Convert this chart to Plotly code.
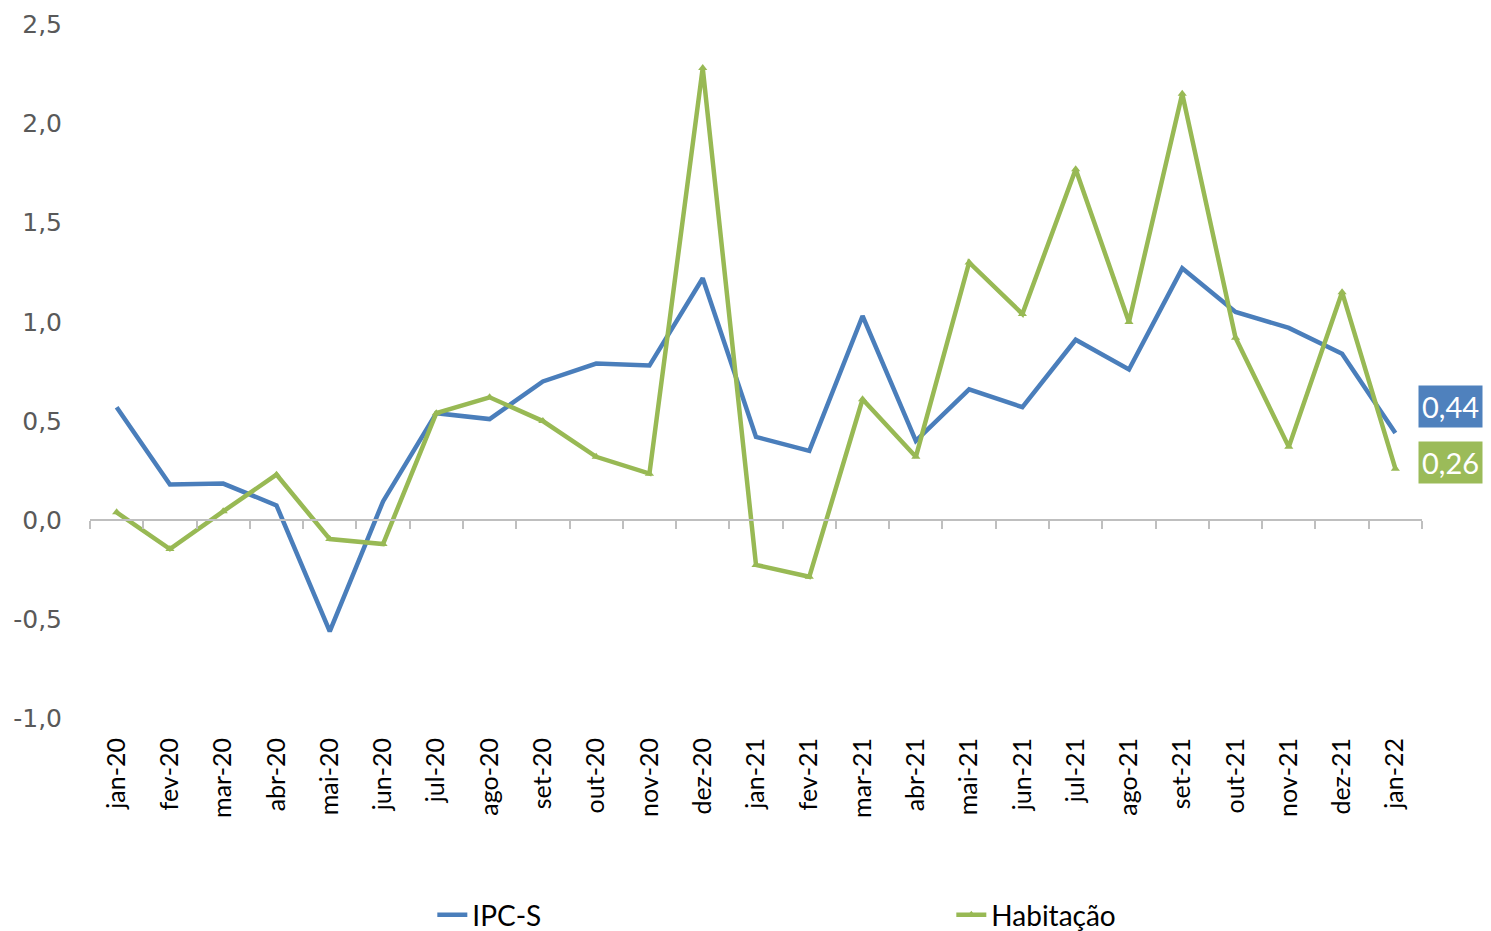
import plotly.graph_objects as go

categories = ["jan-20", "fev-20", "mar-20", "abr-20", "mai-20", "jun-20", "jul-20", "ago-20",
              "set-20", "out-20", "nov-20", "dez-20", "jan-21", "fev-21", "mar-21", "abr-21",
              "mai-21", "jun-21", "jul-21", "ago-21", "set-21", "out-21", "nov-21", "dez-21", "jan-22"]

ipc_s = [0.57, 0.18, 0.185, 0.075, -0.56, 0.095, 0.54, 0.51, 0.70, 0.79, 0.78, 1.22, 0.42,
         0.35, 1.03, 0.40, 0.66, 0.57, 0.91, 0.76, 1.27, 1.05, 0.97, 0.84, 0.44]

habitacao = [0.04, -0.145, 0.045, 0.23, -0.095, -0.12, 0.54, 0.62, 0.50, 0.32, 0.235, 2.28,
             -0.225, -0.285, 0.61, 0.32, 1.30, 1.04, 1.77, 1.00, 2.15, 0.92, 0.37, 1.15, 0.26]

y_ticks = [-1.0, -0.5, 0.0, 0.5, 1.0, 1.5, 2.0, 2.5]
y_tick_text = ["-1,0", "-0,5", "0,0", "0,5", "1,0", "1,5", "2,0", "2,5"]

BLUE = "#4a7ebb"
GREEN = "#98b954"
AXIS_GREY = "#bfbfbf"
y_range = [-1.0, 2.5]
pad = 0.002

fig = go.Figure()

fig.add_trace(go.Scatter(
    x=categories, y=ipc_s, name="IPC-S", mode="lines",
    line=dict(color=BLUE, width=4.5), cliponaxis=False,
))
fig.add_trace(go.Scatter(
    x=categories, y=habitacao, name="Habitação", mode="lines+markers",
    line=dict(color=GREEN, width=4.5),
    marker=dict(symbol="triangle-up", size=8, color=GREEN), cliponaxis=False,
))
# invisible helper trace for the zero-line axis
fig.add_trace(go.Scatter(
    x=categories, y=ipc_s, xaxis="x2", mode="lines", line=dict(width=0),
    opacity=0, showlegend=False, hoverinfo="skip",
))

def fmt(v):
    return f"{v:.2f}".replace(".", ",")

fig.add_annotation(
    xref="paper", yref="y", x=1.0458, y=0.574, xanchor="right", yanchor="middle",
    text=fmt(ipc_s[-1]), showarrow=False, bgcolor="#4f81bd",
    font=dict(family="Lato", size=29, color="white"), borderpad=3,
)
fig.add_annotation(
    xref="paper", yref="y", x=1.0458, y=0.29, xanchor="right", yanchor="middle",
    text=fmt(habitacao[-1]), showarrow=False, bgcolor="#9bbb59",
    font=dict(family="Lato", size=29, color="white"), borderpad=3,
)

zero_pos = (0 - y_range[0]) / (y_range[1] - y_range[0])

fig.update_layout(
    width=1491, height=931,
    margin=dict(l=82, r=77, t=16, b=220, autoexpand=False),
    paper_bgcolor="white", plot_bgcolor="white",
    separators=", ",
    showlegend=True,
    legend=dict(
        orientation="h", x=0.257, xanchor="left", y=-0.282, yanchor="middle",
        font=dict(family="Lato", size=28, color="black"),
        entrywidth=474, entrywidthmode="pixels",
    ),
    xaxis=dict(
        type="category", categoryorder="array", categoryarray=categories,
        range=[-0.5, len(categories) - 0.5], automargin=False,
        showline=False, showgrid=False, zeroline=False, ticks="",
        tickangle=-90, ticklabelstandoff=13,
        tickfont=dict(family="Lato", size=25, color="black"),
    ),
    xaxis2=dict(
        type="category", categoryorder="array", categoryarray=categories,
        range=[-0.5, len(categories) - 0.5], automargin=False,
        overlaying="x", anchor="free", position=zero_pos, side="bottom",
        showline=True, linecolor=AXIS_GREY, linewidth=2,
        ticks="outside", tickson="boundaries", ticklen=8, tickwidth=2, tickcolor=AXIS_GREY,
        showticklabels=False, showgrid=False, zeroline=False,
    ),
    yaxis=dict(
        range=[y_range[0] - pad, y_range[1] + pad], tickvals=y_ticks, ticktext=y_tick_text,
        showline=False, showgrid=False, zeroline=False, ticks="", automargin=False,
        tickfont=dict(family="DejaVu Sans", size=25, color="#595959"),
        ticklabelstandoff=27, ticklabeloverflow="allow",
    ),
)

fig.write_html("out.html")
